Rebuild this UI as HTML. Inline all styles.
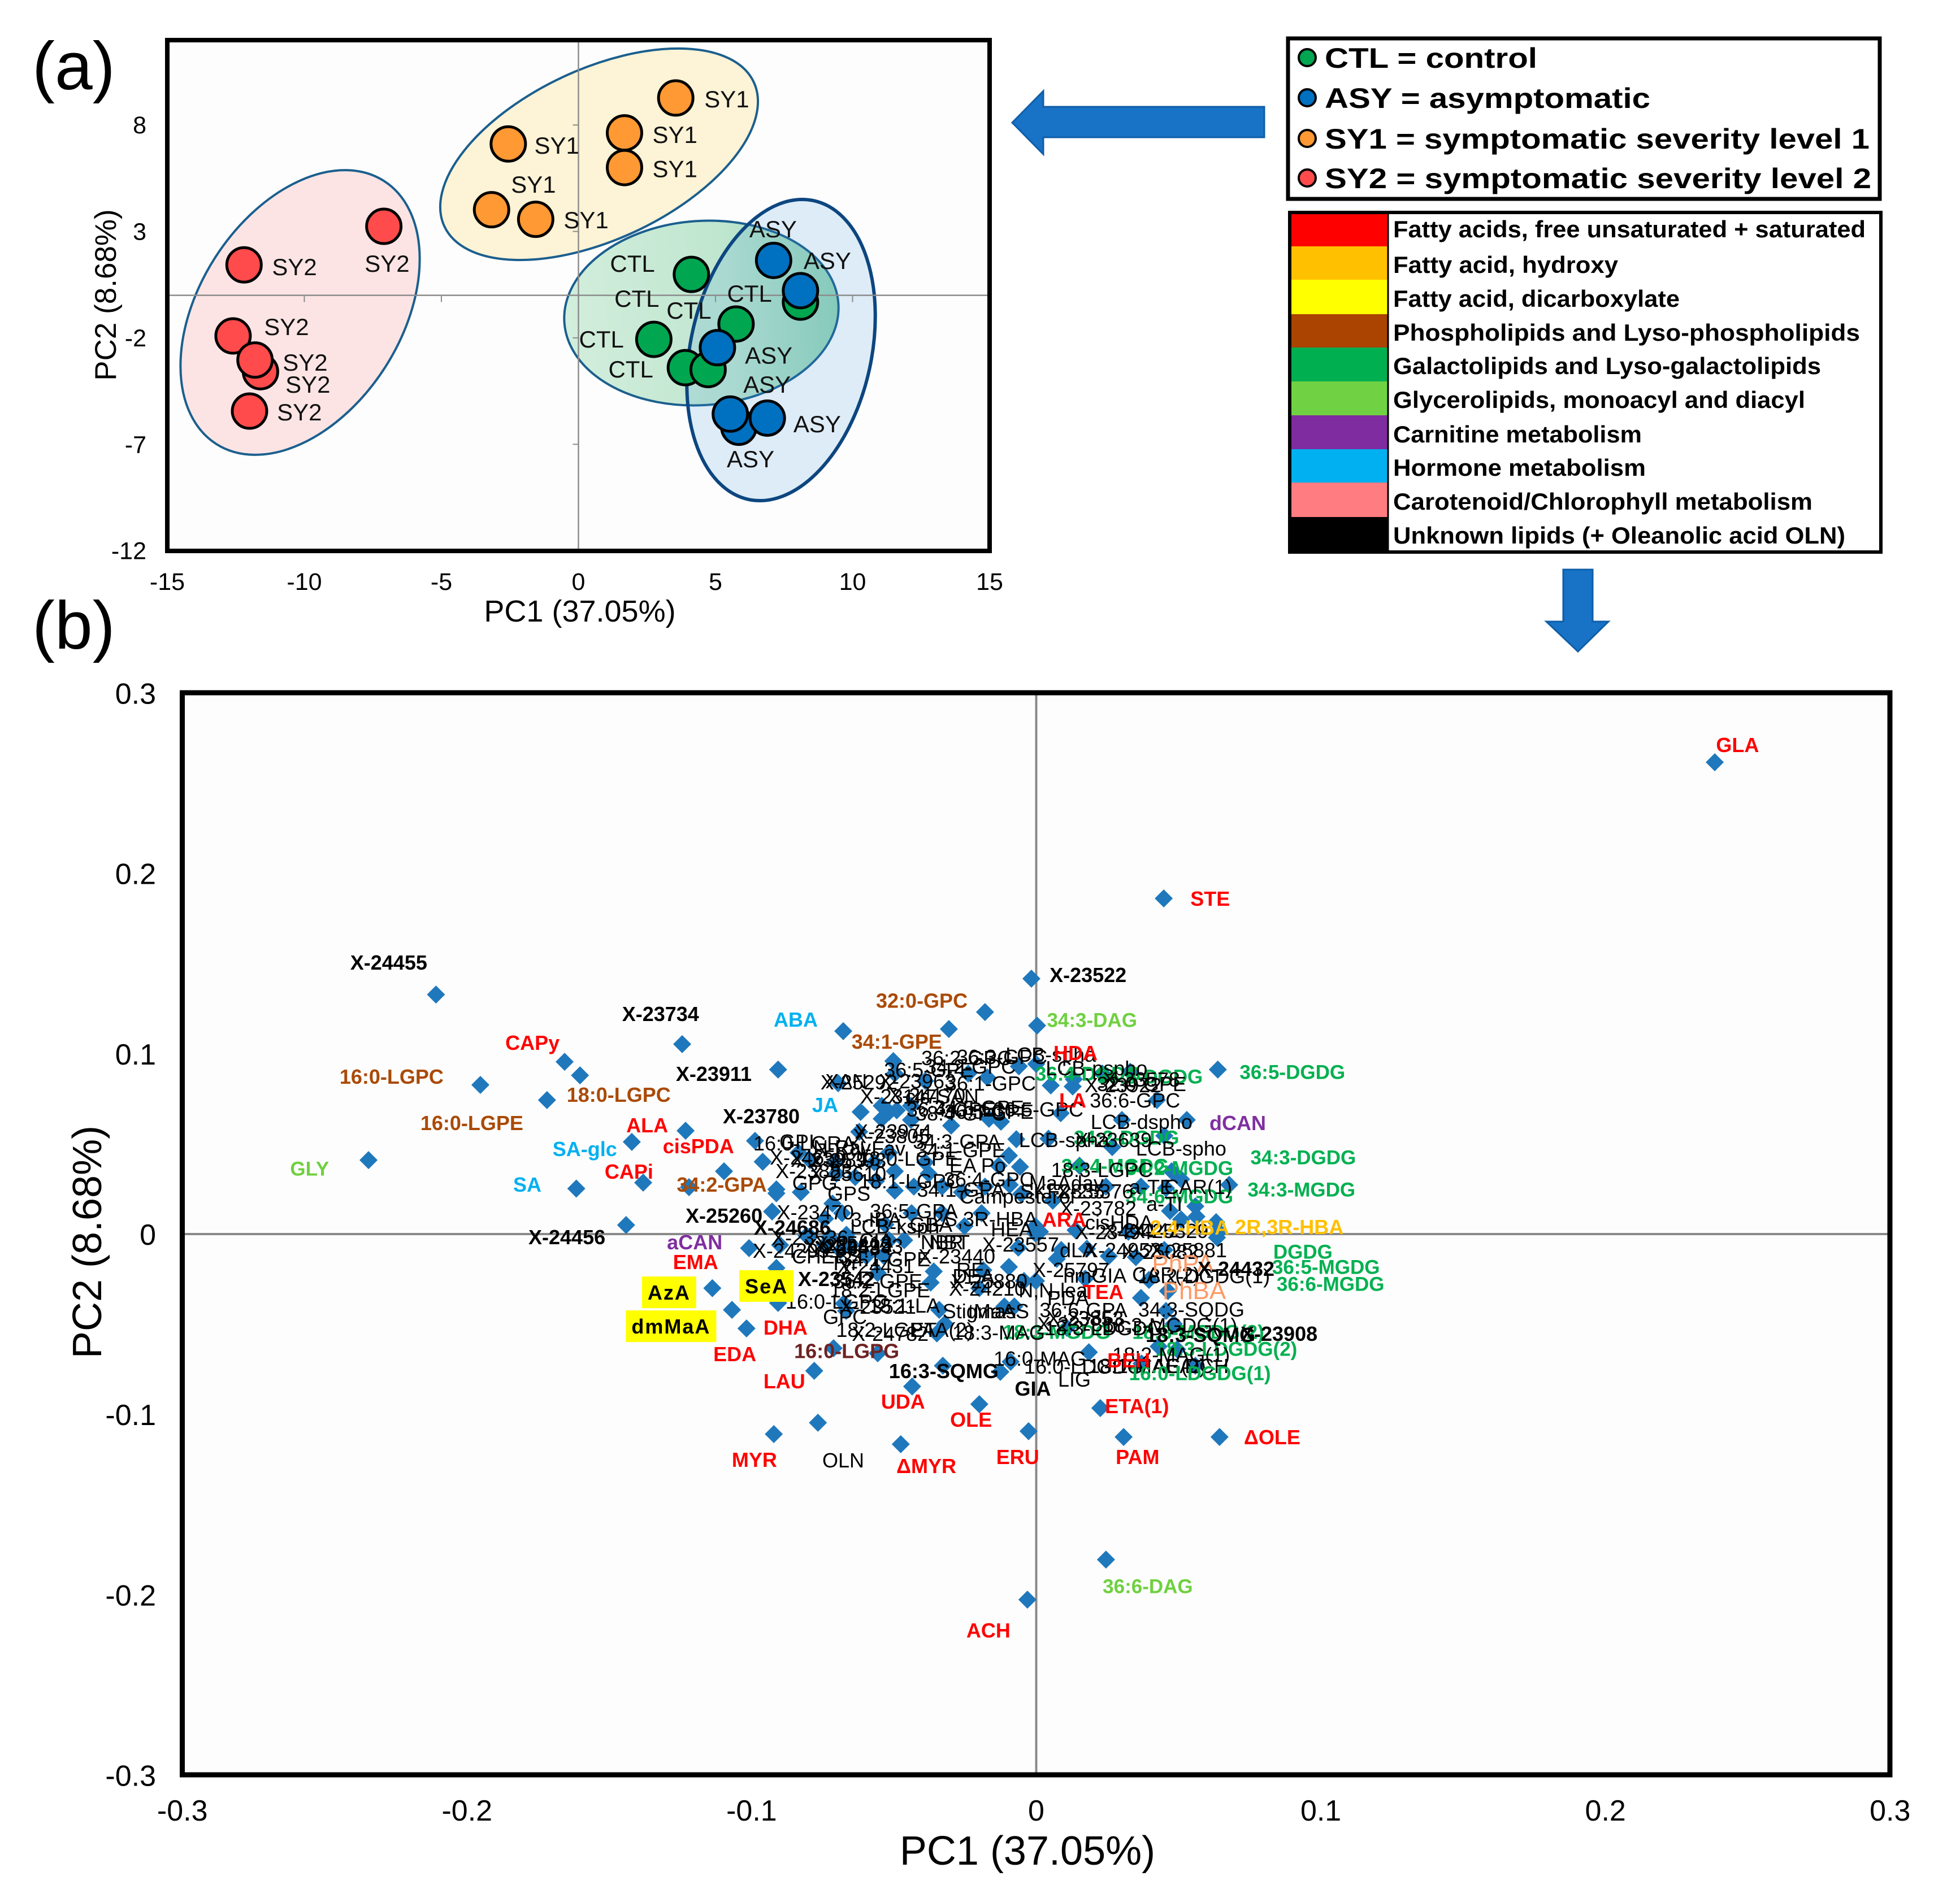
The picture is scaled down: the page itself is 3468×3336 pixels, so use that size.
<!DOCTYPE html>
<html lang="en">
<head>
<meta charset="utf-8">
<title>PCA scores and loadings</title>
<style>
html,body{margin:0;padding:0;background:#fff}
svg{display:block}
text{font-family:"Liberation Sans",Arial,sans-serif}
</style>
</head>
<body>
<svg id="fig" xmlns="http://www.w3.org/2000/svg" width="3468" height="3336" viewBox="0 0 3468 3336">
  <defs>
    <linearGradient id="ctlGrad" x1="0" x2="1" y1="0" y2="0">
      <stop offset="0" stop-color="#d2eedc"/>
      <stop offset="0.6" stop-color="#bfe6cf"/>
      <stop offset="1" stop-color="#94d4b4"/>
    </linearGradient>
  </defs>
  <rect width="3468" height="3336" fill="#fff"/>

  <text x="57" y="158" font-size="120">(a)</text>
  <text x="57" y="1148" font-size="120">(b)</text>

  <!-- Panel a frame -->
  <rect x="296" y="71" width="1455" height="904" fill="#fdfdfd"/>
  <g id="panelAEllipses">
    <ellipse transform="translate(531 553) rotate(-57.5)" rx="276" ry="179" fill="#fce4e4" stroke="#1b5f8e" stroke-width="4"/>
    <ellipse transform="translate(1060 273) rotate(-25)" rx="302" ry="151" fill="#fdf3d6" stroke="#1b5f8e" stroke-width="4"/>
    <ellipse transform="translate(1241 554) rotate(-4)" rx="243" ry="163" fill="url(#ctlGrad)" stroke="#1b5f8e" stroke-width="4"/>
    <ellipse transform="translate(1382 619.5) rotate(-77.6)" rx="270.6" ry="160" fill="#3f9bdc" fill-opacity="0.17" stroke="#0d4680" stroke-width="6"/>
  </g>
  <g id="panelA"></g>
  <rect x="296" y="71" width="1455" height="904" fill="none" stroke="#000" stroke-width="8"/>
  <text x="1026" y="1100" font-size="54" text-anchor="middle">PC1 (37.05%)</text>
  <text transform="translate(205 522) rotate(-90)" font-size="53" text-anchor="middle">PC2 (8.68%)</text>

  <!-- arrows -->
  <polygon points="1791,217 1846,161 1846,189 2237,189 2237,243 1846,243 1846,273" fill="#1872c6" stroke="#0f5ea8" stroke-width="3"/>
  <polygon points="2766,1008 2818,1008 2818,1100 2846,1100 2792,1153 2736,1100 2766,1100" fill="#1872c6" stroke="#0f5ea8" stroke-width="3"/>

  <!-- group legend -->
  <g>
    <rect x="2279" y="68" width="1047" height="284" fill="#fff" stroke="#000" stroke-width="7"/>
    <circle cx="2313" cy="102" r="15" fill="#00a650" stroke="#000" stroke-width="4"/>
    <circle cx="2313" cy="173" r="15" fill="#0070c0" stroke="#000" stroke-width="4"/>
    <circle cx="2313" cy="245" r="15" fill="#ff9933" stroke="#000" stroke-width="4"/>
    <circle cx="2313" cy="315" r="15" fill="#ff4b4b" stroke="#000" stroke-width="4"/>
    <text x="2344" y="120" font-size="50" font-weight="bold" textLength="376" lengthAdjust="spacingAndGlyphs">CTL = control</text>
    <text x="2344" y="191" font-size="50" font-weight="bold" textLength="576" lengthAdjust="spacingAndGlyphs">ASY = asymptomatic</text>
    <text x="2344" y="263" font-size="50" font-weight="bold" textLength="964" lengthAdjust="spacingAndGlyphs">SY1 = symptomatic severity level 1</text>
    <text x="2344" y="333" font-size="50" font-weight="bold" textLength="967" lengthAdjust="spacingAndGlyphs">SY2 = symptomatic severity level 2</text>
  </g>

  <!-- class legend -->
  <g>
    <rect x="2282" y="376" width="173" height="60" fill="#ff0000"/>
    <rect x="2282" y="436" width="173" height="59" fill="#ffc000"/>
    <rect x="2282" y="495" width="173" height="61" fill="#ffff00"/>
    <rect x="2282" y="556" width="173" height="59" fill="#aa4400"/>
    <rect x="2282" y="615" width="173" height="60" fill="#00b050"/>
    <rect x="2282" y="675" width="173" height="60" fill="#70d243"/>
    <rect x="2282" y="735" width="173" height="60" fill="#7f2ca0"/>
    <rect x="2282" y="795" width="173" height="59" fill="#00b0f0"/>
    <rect x="2282" y="854" width="173" height="61" fill="#ff7c80"/>
    <rect x="2282" y="915" width="173" height="62" fill="#000000"/>
    <rect x="2282" y="376" width="1046" height="601" fill="none" stroke="#000" stroke-width="6"/>
    <line x1="2456" y1="376" x2="2456" y2="977" stroke="#000" stroke-width="3"/>
    <text x="2465" y="420" font-size="42" font-weight="bold" textLength="836" lengthAdjust="spacingAndGlyphs">Fatty acids, free unsaturated + saturated</text>
    <text x="2465" y="483" font-size="42" font-weight="bold" textLength="398" lengthAdjust="spacingAndGlyphs">Fatty acid, hydroxy</text>
    <text x="2465" y="543" font-size="42" font-weight="bold" textLength="507" lengthAdjust="spacingAndGlyphs">Fatty acid, dicarboxylate</text>
    <text x="2465" y="603" font-size="42" font-weight="bold" textLength="826" lengthAdjust="spacingAndGlyphs">Phospholipids and Lyso-phospholipids</text>
    <text x="2465" y="662" font-size="42" font-weight="bold" textLength="757" lengthAdjust="spacingAndGlyphs">Galactolipids and Lyso-galactolipids</text>
    <text x="2465" y="722" font-size="42" font-weight="bold" textLength="729" lengthAdjust="spacingAndGlyphs">Glycerolipids, monoacyl and diacyl</text>
    <text x="2465" y="783" font-size="42" font-weight="bold" textLength="440" lengthAdjust="spacingAndGlyphs">Carnitine metabolism</text>
    <text x="2465" y="842" font-size="42" font-weight="bold" textLength="447" lengthAdjust="spacingAndGlyphs">Hormone metabolism</text>
    <text x="2465" y="902" font-size="42" font-weight="bold" textLength="742" lengthAdjust="spacingAndGlyphs">Carotenoid/Chlorophyll metabolism</text>
    <text x="2465" y="962" font-size="42" font-weight="bold" textLength="800" lengthAdjust="spacingAndGlyphs">Unknown lipids (+ Oleanolic acid OLN)</text>
  </g>

  <!-- Panel b -->
  <rect x="322" y="1226" width="3022" height="1915" fill="#fdfdfd"/>
  <g id="panelB"></g>
  <rect x="322.5" y="1226" width="3021.5" height="1915" fill="none" stroke="#000" stroke-width="9"/>
  <text x="1818" y="3300" font-size="72" text-anchor="middle">PC1 (37.05%)</text>
  <text transform="translate(179 2198) rotate(-90)" font-size="72" text-anchor="middle">PC2 (8.68%)</text>
</svg>

<script>
// ---------- Panel (a) data: sample scores ----------
const ctlPc1 = [4.12, 8.1, 5.75, 2.75, 3.9, 4.73];
const ctlPc2 = [0.98, -0.32, -1.35, -2.07, -3.4, -3.49];
const asyPc1 = [7.12, 8.1, 5.07, 5.85, 5.54, 6.89];
const asyPc2 = [1.64, 0.22, -2.46, -6.2, -5.58, -5.77];
const sy1Pc1 = [3.55, 1.68, 1.68, -2.56, -3.17, -1.56];
const sy1Pc2 = [9.27, 7.63, 6.0, 7.11, 4.02, 3.57];
const sy2Pc1 = [-7.1, -12.2, -12.6, -11.6, -11.8, -12.0];
const sy2Pc2 = [3.24, 1.43, -1.91, -3.59, -3.04, -5.44];

const ctlLabelPc1 = [1.97, 2.13, 4.03, 6.24, 0.84, 1.91];
const ctlLabelPc2 = [1.5, -0.14, -0.7, 0.1, -2.05, -3.46];
const asyLabelPc1 = [7.1, 9.08, 6.94, 6.88, 8.71, 6.28];
const asyLabelPc2 = [3.12, 1.64, -2.81, -4.18, -6.04, -7.68];
const sy1LabelPc1 = [5.41, 3.52, 3.52, -0.79, -1.64, 0.28];
const sy1LabelPc2 = [9.23, 7.56, 5.95, 7.05, 5.22, 3.55];
const sy2LabelPc1 = [-6.98, -10.36, -10.65, -9.97, -9.87, -10.18];
const sy2LabelPc2 = [1.5, 1.34, -1.47, -3.14, -4.18, -5.48];

const scoreXTicks = [-15, -10, -5, 0, 5, 10, 15];
const scoreYTicks = [8, 3, -2, -7, -12];

// ---------- Panel (b) data: metabolite loadings ----------
const loadingTicksX = [-0.3, -0.2, -0.1, 0, 0.1, 0.2, 0.3];
const loadingTicksY = [0.3, 0.2, 0.1, 0, -0.1, -0.2, -0.3];

const loadingPc1 = [
 -.2109,-.1657,-.1603,-.1953,-.1719,-.1244,-.0907,-.1232,-.1421,-.0988,-.0961,-.1097,-.2346,-.1616,-.1381,-.122,-.0913,-.0913,-.0928,-.1441,
 -.1009,-.09,-.0913,-.1138,-.1069,-.0907,-.1018,-.078,-.0712,-.0557,-.0436,-.0922,-.0767,-.0476,-.02,-.0027,-.0795,-.0537,-.0517,-.0464,
 -.036,-.0371,-.0557,-.0096,-.0063,-.0186,-.02,-.0676,-.0668,-.0341,-.0112,-.0077,-.0321,-.0349,-.0043,-.0328,-.009,-.0126,-.0688,-.0742,
 -.0649,-.0597,.0635,.0088,.0072,-.0001,.0178,.0255,.035,.045,.0396,.0172,.0368,.0463,.0456,.0483,.0108,.043,.0495,.0185,
 .037,.0559,.0225,.0307,.0644,.0003,.0638,.0051,.0128,.0424,.0086,.0301,.0529,.0043,.045,.0267,.0152,.0476,.0509,.0678,
 .0368,.0245,.0456,.0058,.0559,.047,.0509,.0563,.0632,-.0003,-.0003,.0013,.0138,.0324,.0642,0,.033,.0132,.0232,-.0678,
 -.0307,-.018,-.0502,-.0696,-.0172,-.0061,-.0497,-.039,-.0239,-.0617,-.0543,-.049,-.0517,-.0543,-.044,-.044,-.0299,-.0166,-.0124,-.007,
 -.0622,-.0835,-.0795,-.0708,-.0569,-.0517,-.039,-.0096,-.0132,-.0057,-.0497,-.0378,-.0702,-.0636,-.0563,-.0497,-.043,-.0331,-.0261,-.018,
 -.0093,-.0053,-.0827,-.0716,-.0682,-.0438,-.0192,-.0331,-.0742,-.053,-.0252,-.0807,.2384,.0448,-.0017,.0245,-.0031,-.0726,-.0667
];
const loadingPc2 = [
 .1328,.0955,.088,.0827,.0743,.1053,.0912,.0573,.0511,.0517,.0401,.0348,.041,.0252,.0285,.026,.0248,.0226,.0125,.005,
 -.0078,-.0061,-.0188,-.03,-.042,-.0382,-.0523,-.0758,-.0633,-.0661,-.0845,-.1109,-.1046,-.1165,-.0943,-.1093,-.0013,-.0119,-.0034,-.0034,
 -.0207,-.0269,-.0216,-.0182,-.0075,-.02,-.03,-.0385,-.0426,-.042,-.0401,-.0401,-.0498,-.0551,-.026,-.073,-.0708,-.0764,-.0091,-.006,
 -.006,-.0122,-.0019,-.0088,-.0138,-.026,-.0081,-.0122,-.0128,-.0088,-.0254,-.0247,-.0354,-.0316,-.0426,-.0498,-.052,-.0623,-.0639,-.0655,
 -.0718,-.073,-.0965,-.1125,-.1125,.1156,.0912,.0824,.0818,.0743,.067,.0633,.0633,.0529,.0545,.0482,.0379,.0348,.0304,.0273,
 .0263,.0263,.0254,.0185,.0154,.0128,.0081,.0097,.0066,.0044,.0003,.0013,.0022,.0013,.0013,.0943,.09,.0858,.089,.1125,
 .1137,.1231,.0959,.0836,.0868,.093,.089,.0849,.089,.0677,.0711,.0686,.0677,.0639,.0711,.0633,.0601,.0639,.0623,.0526,
 .0567,.0451,.041,.0398,.0398,.0451,.0398,.0435,.0379,.0373,.0348,.0335,.0335,.0316,.0294,.0241,.0263,.0263,.0232,.0263,
 .0273,.0222,.0232,.0169,.0116,.0116,.0116,.0116,.0085,.0053,.0044,-.0009,.2616,.1861,.1416,-.1805,-.2027,-.0017,-.0004
];

// ---------- Label text and anchor values, by metabolite class ----------
const redNames = ["CAPy","ALA","cisPDA","CAPi","EMA","DHA","EDA","LAU","UDA","OLE","MYR","\u0394MYR","ERU","PAM","\u0394OLE","ETA(1)","ACH","GLA","STE","ARA","TEA","LA","HDA","BEH"];
const redPc1 = [-.177,-.1367,-.1187,-.1431,-.1197,-.0881,-.1059,-.0885,-.0468,-.0229,-.099,-.0386,-.0065,.0356,.0829,.0354,-.0168,.2464,.0611,.0098,.0235,.0128,.0138,.0325];
const redPc2 = [.1062,.0605,.0489,.0348,-.0154,-.0517,-.0664,-.0815,-.0927,-.1028,-.125,-.1285,-.1234,-.1234,-.1125,-.0952,-.2196,.2713,.1861,.0081,-.032,.0743,.1006,-.0699];

const brownNames = ["16:0-LGPC","18:0-LGPC","16:0-LGPE","34:2-GPA","32:0-GPC","34:1-GPE"];
const brownPc1 = [-.2265,-.1467,-.1983,-.1105,-.0402,-.049];
const brownPc2 = [.0874,.0774,.0617,.0276,.1295,.1068];

const maroonNames = ["16:0-LGPG"];
const maroonPc1 = [-.0666];
const maroonPc2 = [-.0647];

const greenNames = ["36:5-DGDG","34:3-DGDG","34:3-MGDG","DGDG","36:5-MGDG","36:6-MGDG","18:3-MGDG(2)","18:3-LDGDG(2)","34:6-MGDG","34:4-MGDG","34:2-MGDG","34:2-DGDG","36:4-DGDG","36:6-DGDG","18:3-MGDG"];
const greenPc1 = [.09,.0938,.0932,.0937,.1018,.1034,.0569,.0668,.0503,.0277,.0503,.0317,.0182,.04,.0072];
const greenPc2 = [.0899,.0426,.0248,-.0097,-.0182,-.0276,-.0542,-.0636,.021,.0379,.0367,.0536,.089,.0874,-.0542];

const limeNames = ["GLY","34:3-DAG","36:6-DAG"];
const limePc1 = [-.2553,.0196,.0392];
const limePc2 = [.0363,.1187,-.1952];

const purpleNames = ["aCAN","dCAN"];
const purplePc1 = [-.12,.0708];
const purplePc2 = [-.0044,.0617];

const hormoneNames = ["ABA","JA","SA-glc","SA"];
const hormonePc1 = [-.0845,-.0742,-.1586,-.1788];
const hormonePc2 = [.119,.0717,.0473,.0276];

const hydroxyNames = ["2R,3R-HBA","2,4-HBA"];
const hydroxyPc1 = [.0889,.0539];
const hydroxyPc2 = [.0041,.0038];

const carotenoidNames = ["PhPA","PhBA"];
const carotenoidPc1 = [.0515,.0555];
const carotenoidPc2 = [-.016,-.031];

const dicarboxylateNames = ["AzA","dmMaA","SeA"];
const dicarboxylatePc1 = [-.129,-.1283,-.0948];
const dicarboxylatePc2 = [-.0323,-.0511,-.0288];

const boldBlackNames = ["X-24455","X-23734","X-23911","X-23780","X-25260","X-24456","16:3-SQMG","GIA","X-23522","X-24432","X-23908","18:3-SQMG","X-24686","X-23542"];
const boldBlackPc1 = [-.2275,-.132,-.1133,-.0966,-.1097,-.1649,-.0325,-.0012,.0182,.0702,.0853,.0577,-.0857,-.0702];
const boldBlackPc2 = [.1507,.1222,.089,.0655,.0103,-.0016,-.0758,-.0855,.1438,-.0191,-.0551,-.0558,.0038,-.0248];

const blackNames = ["OLN","LIG","16:0-LDGDG","18:2-MAG(1)","16:0-MAG","18:1-MAG(2)","AEA","DCH","36:6-GPA","34:3-SQDG",
 "PDA","18:2-DGDG(1)","CAR(2)","hmGIA","X-25797","X-25881","dLA","X-24952","X-25082","X-23557",
 "X-23494","X-24142","X-25329","cisHDA","X-23782","a-TI","a-TE","CAR(1)","X-25376","18:3-LGPC",
 "LCB-spho","LCB-spha","X-23639","LCB-dspho","36:6-GPC","36:5-GPC","LCB-pspho","LCB-spha","X-23578","X-23922",
 "32:0-GPE","36:2-GPC","36:3-GPC","36:5-GPE","34:2-GPC","X-23963","36:1-GPC","XAN","X-25292","X-23147",
 "X-24170","cis-SAN","36:4-GPE","38:4-GPC","34:5-GPE","36:5-GPE","X-23974","X-23805","34:3-GPA","34:1-GPE",
 "16:0-LGRA","GPI","N-Fav","N-Rav","X-24659","X-23989","X-25393","18:0-LGPE","EA Po","X-23883",
 "X-25610","GPG","18:1-LGPC","36:4-GPC","34:1-GPA","Campesterol","MaAday","SKF2835","GPS","X-23470",
 "36:5-GPA","2S,3R-HBA","HEA","3-IBA","LCB-ksph","GBA","X-23536","CIA","X-25483","X-25484",
 "X-24993","X-25412","X-24299","NBR","NBT","X-23440","CHEBS","X-24431","34:1-GPE","Tyr",
 "RE","DEA","X-25880","X-24210","N,N-lea","36:2-GPE","18:2-LGPE","16:0-LGPC","X-23521","18:1-LA",
 "GPC","Stigmas","tMaAS","18:2-LGPA","X-24782","ETA(2)","18:3-MAG","X-23853","X-23788","18:3-LDGDG",
 "18:3-MGDG(1)"];
const blackPc1 = [-.0678,.0134,.0166,.0474,.0013,.039,.048,.0599,.0166,.0545,
 .0112,.0589,.0456,.0206,.0122,.0535,.0146,.0305,.0436,-.0055,
 .0271,.037,.047,.0291,.0217,.045,.0404,.0569,.0206,.0231,
 .0509,.0098,.0271,.037,.0347,.0007,.0212,.0051,.037,.0305,
 .037,-.0245,-.012,-.0378,-.0231,-.0418,-.016,-.0668,-.0623,-.0484,
 -.0384,-.0331,-.0299,-.0265,-.02,-.0166,-.0503,-.0509,-.0279,-.0265,
 -.0815,-.0841,-.0557,-.0682,-.0801,-.0728,-.0662,-.045,-.0206,-.0781,
 -.0662,-.0778,-.0444,-.0166,-.0265,-.0067,.0106,.0092,-.0658,-.0776,
 -.043,-.018,-.0086,-.0563,-.0497,-.037,-.0795,-.0563,-.0682,-.0642,
 -.0603,-.0642,-.0861,-.0331,-.0305,-.0279,-.0736,-.0563,-.0529,-.0676,
 -.0231,-.0221,-.0166,-.0172,.0059,-.0557,-.0549,-.0702,-.0557,-.0464,
 -.0672,-.02,-.0132,-.0529,-.0513,-.0331,-.0132,.0172,.0138,.0237,
 .047];
const blackPc2 = [-.1253,-.0805,-.0733,-.0667,-.0689,-.073,-.073,-.073,-.042,-.0417,
 -.0354,-.0232,-.0222,-.0229,-.0197,-.0088,-.0088,-.0088,-.0097,-.0056,
 .0013,.0022,.0019,.0066,.0144,.0169,.0263,.0263,.0238,.0357,
 .0476,.0523,.0523,.0623,.0743,.0692,.0921,.0996,.0858,.0827,
 .0833,.0977,.0984,.0912,.093,.0849,.0837,.0849,.0843,.0764,
 .0771,.0764,.0692,.067,.0702,.068,.057,.0545,.0514,.0467,
 .0504,.0514,.0476,.0482,.0426,.0414,.041,.042,.0382,.0351,
 .0335,.0285,.0295,.0304,.0248,.021,.0285,.0238,.0226,.0122,
 .0128,.0085,.0028,.0081,.0044,.0053,-.0019,-.0034,-.0066,-.0075,
 -.0066,-.005,-.0091,-.0044,-.0044,-.0122,-.0122,-.0175,-.0138,-.016,
 -.0197,-.0232,-.026,-.0301,-.031,-.026,-.031,-.0373,-.0401,-.0395,
 -.0457,-.0426,-.0426,-.0529,-.0551,-.0529,-.0545,-.0467,-.0498,-.052,
 -.0504];

const galactoTopNames = ["16:0-LDGDG(1)"];
const galactoTopPc1 = [.0575];
const galactoTopPc2 = [-.0771];

// ---------- Rendering ----------
const NS = 'http://www.w3.org/2000/svg';
const panelA = document.getElementById('panelA');
const panelB = document.getElementById('panelB');

function ax(v){ return 1023.5 + v * 48.5; }
function ay(v){ return 522.6 - v * 37.67; }
function bx(v){ return 1833.5 + v * 5036; }
function by(v){ return 2184 - v * 3192; }

function mk(tag, attrs, parent){
  const el = document.createElementNS(NS, tag);
  for (const k in attrs) el.setAttribute(k, attrs[k]);
  parent.appendChild(el);
  return el;
}

// Panel a axes
let el;
el = mk('line',{x1:ax(-15),x2:ax(15),y1:ay(0),y2:ay(0),stroke:'#8c8c8c','stroke-width':2.5},panelA);


el = mk('line',{x1:ax(0),x2:ax(0),y1:71,y2:975,stroke:'#8c8c8c','stroke-width':2.5},panelA);



scoreXTicks.forEach(function(t){
  const tick = mk('line',{x1:ax(t),x2:ax(t),y1:ay(0),y2:ay(0)+12,stroke:'#8c8c8c','stroke-width':2},panelA);
  
  
  const lab = mk('text',{x:ax(t),y:1044,'font-size':43,'text-anchor':'middle'},panelA);
  lab.textContent = String(t);
  
  
});
scoreYTicks.forEach(function(t){
  const tick = mk('line',{x1:ax(0)-10,x2:ax(0),y1:ay(t),y2:ay(t),stroke:'#8c8c8c','stroke-width':2},panelA);
  
  
  const lab = mk('text',{x:259,y:ay(t)+15,'font-size':43,'text-anchor':'end'},panelA);
  lab.textContent = String(t);
  
  
});

function drawGroup(name, colour, xs, ys, lx, ly){
  xs.forEach(function(v,i){
    const dot = mk('circle',{cx:ax(v),cy:ay(ys[i]),r:30.5,fill:colour,stroke:'#000','stroke-width':5},panelA);
    
    
  });
  lx.forEach(function(v,i){
    const t = mk('text',{x:ax(v),y:ay(ly[i])+15,'font-size':42,'text-anchor':'middle',fill:'#111'},panelA);
    t.textContent = name;
    
    
  });
}
drawGroup('SY2','#ff4b4b',sy2Pc1,sy2Pc2,sy2LabelPc1,sy2LabelPc2);
drawGroup('SY1','#ff9933',sy1Pc1,sy1Pc2,sy1LabelPc1,sy1LabelPc2);
drawGroup('CTL','#00a650',ctlPc1,ctlPc2,ctlLabelPc1,ctlLabelPc2);
drawGroup('ASY','#0070c0',asyPc1,asyPc2,asyLabelPc1,asyLabelPc2);

// Panel b axes
el = mk('line',{x1:322,x2:3344,y1:by(0),y2:by(0),stroke:'#8a8a8a','stroke-width':4},panelB);


el = mk('line',{x1:bx(0),x2:bx(0),y1:1226,y2:3141,stroke:'#8a8a8a','stroke-width':4},panelB);



loadingTicksX.forEach(function(t){
  const lab = mk('text',{x:bx(t),y:3222,'font-size':52,'text-anchor':'middle'},panelB);
  lab.textContent = String(t);
  
  
});
loadingTicksY.forEach(function(t){
  const lab = mk('text',{x:276,y:by(t)+19,'font-size':52,'text-anchor':'end'},panelB);
  lab.textContent = String(t);
  
  
});

// Panel b points
loadingPc1.forEach(function(v,i){
  const cx = bx(v), cy = by(loadingPc2[i]), r = 16;
  const d = mk('polygon',{points:(cx-r)+','+cy+' '+cx+','+(cy-r)+' '+(cx+r)+','+cy+' '+cx+','+(cy+r),fill:'#1f78bc'},panelB);
  
  
});

function drawLabels(names, xs, ys, colour, weight, size, dataName){
  names.forEach(function(n,i){
    const t = mk('text',{x:bx(xs[i]),y:by(ys[i])+size*0.36,'font-size':size,'font-weight':weight,fill:colour,'text-anchor':'middle'},panelB);
    t.textContent = n;
    
    
  });
}
drawLabels(greenNames, greenPc1, greenPc2, '#00b050', 'bold', 35, 'metabolite-label-galactolipid');
drawLabels(blackNames, blackPc1, blackPc2, '#000', 'normal', 36, 'metabolite-label-unknown');
drawLabels(galactoTopNames, galactoTopPc1, galactoTopPc2, '#00b050', 'bold', 35, 'metabolite-label-galactolipid');
drawLabels(limeNames, limePc1, limePc2, '#6fd03f', 'bold', 35, 'metabolite-label-glycerolipid');
drawLabels(redNames, redPc1, redPc2, '#ff0000', 'bold', 36, 'metabolite-label-fatty-acid');
drawLabels(brownNames, brownPc1, brownPc2, '#aa4a06', 'bold', 36, 'metabolite-label-phospholipid');
drawLabels(maroonNames, maroonPc1, maroonPc2, '#6e2222', 'bold', 36, 'metabolite-label-lyso-pg');
drawLabels(purpleNames, purplePc1, purplePc2, '#7f2fa0', 'bold', 36, 'metabolite-label-carnitine');
drawLabels(hormoneNames, hormonePc1, hormonePc2, '#00b0f0', 'bold', 36, 'metabolite-label-hormone');
drawLabels(hydroxyNames, hydroxyPc1, hydroxyPc2, '#ffc000', 'bold', 36, 'metabolite-label-hydroxy-fatty-acid');
drawLabels(carotenoidNames, carotenoidPc1, carotenoidPc2, '#ff9a66', 'normal', 44, 'metabolite-label-carotenoid');
drawLabels(boldBlackNames, boldBlackPc1, boldBlackPc2, '#000', 'bold', 36, 'metabolite-label-unknown-bold');

// Highlighted dicarboxylates
dicarboxylateNames.forEach(function(n,i){
  const cx = bx(dicarboxylatePc1[i]), cy = by(dicarboxylatePc2[i]);
  const t = document.createElementNS(NS,'text');
  t.setAttribute('x', cx);
  t.setAttribute('y', cy + 13);
  t.setAttribute('font-size', 36);
  t.setAttribute('font-weight', 'bold');
  t.setAttribute('text-anchor', 'middle');
  t.setAttribute('letter-spacing', '2');
  t.textContent = n;
  panelB.appendChild(t);
  const w = t.getComputedTextLength() + 20;
  const box = document.createElementNS(NS,'rect');
  box.setAttribute('x', cx - w/2);
  box.setAttribute('y', cy - 28);
  box.setAttribute('width', w);
  box.setAttribute('height', 56);
  box.setAttribute('fill', '#ffff00');
  
  
  panelB.insertBefore(box, t);
  
  
});
</script>
</body>
</html>
